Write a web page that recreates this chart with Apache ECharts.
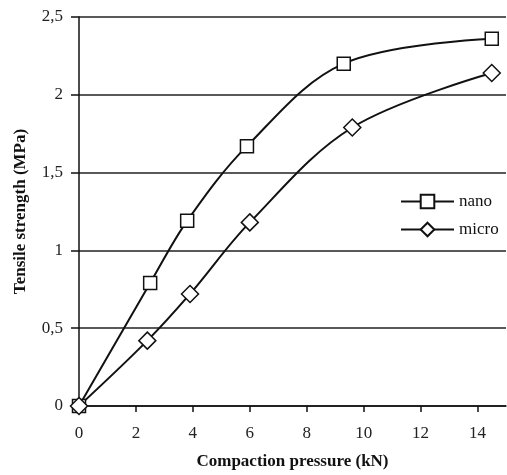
<!DOCTYPE html>
<html>
<head>
<meta charset="utf-8">
<script src="https://cdn.jsdelivr.net/npm/echarts@6/dist/echarts.min.js"></script>
<style>
html, body { margin: 0; padding: 0; background: #fff; }
#chart { width: 507px; height: 475px; }
</style>
</head>
<body>
<div id="chart"></div>
<script>
var seriesNames = ['nano', 'micro'];
var nanoX = [0, 2.5, 3.8, 5.9, 9.3, 14.5];
var nanoY = [0, 0.79, 1.19, 1.67, 2.2, 2.36];
var microX = [0, 2.4, 3.9, 6.0, 9.6, 14.5];
var microY = [0, 0.42, 0.72, 1.18, 1.79, 2.14];

var FONT = 'Liberation Serif';

function pairs(xs, ys) {
	var out = [];
	for (var i = 0; i < xs.length; i++) {
		out.push([xs[i], ys[i]]);
	}
	return out;
}

function lineSerie(name, data, symbol, size) {
	return {
		name: name,
		type: 'line',
		data: data,
		smooth: 0.35,
		symbol: symbol,
		symbolSize: size,
		showAllSymbol: true,
		lineStyle: { color: '#111', width: 2 },
		itemStyle: { color: '#fff', borderColor: '#111', borderWidth: 1.5 },
		z: 3
	};
}

var chart = echarts.init(document.getElementById('chart'));
chart.setOption({
	animation: false,
	backgroundColor: '#fff',
	grid: { left: 79, right: 1, top: 17, bottom: 68 },
	legend: {
		data: seriesNames,
		orient: 'vertical',
		left: 395,
		top: 188,
		itemWidth: 53,
		itemHeight: 17,
		itemGap: 11,
		textStyle: { fontFamily: FONT, fontSize: 17, color: '#111' }
	},
	xAxis: {
		type: 'value',
		min: 0,
		max: 15,
		interval: 2,
		name: 'Compaction pressure (kN)',
		nameLocation: 'middle',
		nameGap: 47,
		nameTextStyle: { fontFamily: FONT, fontSize: 17, fontWeight: 'bold', color: '#111' },
		axisLine: { show: true, lineStyle: { color: '#111', width: 1.5 } },
		axisTick: { show: true, inside: false, length: 6, lineStyle: { color: '#111', width: 1.5 } },
		axisLabel: { fontFamily: FONT, fontSize: 17, color: '#222', margin: 19, showMaxLabel: false },
		splitLine: { show: false }
	},
	yAxis: {
		type: 'value',
		min: 0,
		max: 2.5,
		interval: 0.5,
		name: 'Tensile strength (MPa)',
		nameLocation: 'middle',
		nameGap: 50,
		nameTextStyle: { fontFamily: FONT, fontSize: 17, fontWeight: 'bold', color: '#111' },
		axisLine: { show: true, lineStyle: { color: '#111', width: 1.5 } },
		axisTick: { show: true, inside: false, length: 8, lineStyle: { color: '#111', width: 1.5 } },
		axisLabel: {
			fontFamily: FONT, fontSize: 17, color: '#222', margin: 16,
			formatter: function (v) { return String(v).replace('.', ','); }
		},
		splitLine: { show: true, lineStyle: { color: '#222', width: 1.5 } }
	},
	series: [
		lineSerie(seriesNames[0], pairs(nanoX, nanoY), 'rect', 13),
		lineSerie(seriesNames[1], pairs(microX, microY), 'diamond', 17)
	]
});
</script>
</body>
</html>
